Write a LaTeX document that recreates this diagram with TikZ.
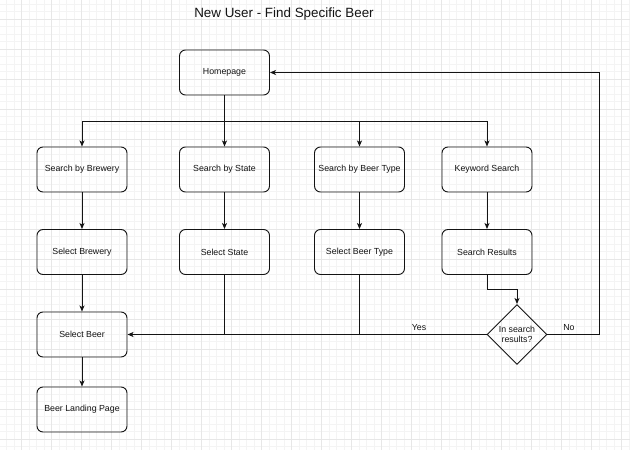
\documentclass[tikz,border=0pt]{standalone}
\usepackage{fontspec}
\setmainfont{Liberation Sans}
\usetikzlibrary{shapes.geometric,arrows.meta}
\definecolor{minorgrid}{HTML}{F4F4F4}
\definecolor{majorgrid}{HTML}{E7E7E7}
\definecolor{ink}{HTML}{141414}
\tikzset{
  stepbox/.style={draw=ink, line width=0.95pt, rounded corners=6pt, minimum width=90pt, minimum height=45pt, inner sep=1pt, align=center, font=\fontsize{8.8}{10.5}\selectfont, text=ink},
  decbox/.style={draw=ink, line width=0.95pt, diamond, minimum width=60pt, minimum height=60pt, inner sep=0pt, align=center, font=\fontsize{8.8}{10.5}\selectfont, text=ink},
  conn/.style={draw=ink, line width=0.95pt},
  arr/.style={conn, -{Stealth[length=6pt,width=5pt,inset=1.5pt]}},
  lbl/.style={font=\fontsize{8.8}{10.5}\selectfont, text=ink, inner sep=0pt},
}
\begin{document}
\begin{tikzpicture}[x=1pt,y=-1pt]
\useasboundingbox (0,0) rectangle (630,450);
\fill[white] (0,0) rectangle (630,450);
% grid
\foreach \i in {0,...,84} {\draw[minorgrid, line width=0.8pt] ({-0.8+7.5*\i},0) -- ({-0.8+7.5*\i},450);}
\foreach \i in {0,...,60} {\draw[minorgrid, line width=0.8pt] (0,{-3.2+7.5*\i}) -- (630,{-3.2+7.5*\i});}
\foreach \i in {0,...,20} {\draw[majorgrid, line width=0.9pt] ({21.7+30*\i},0) -- ({21.7+30*\i},450);}
\foreach \i in {0,...,14} {\draw[majorgrid, line width=0.9pt] (0,{19.3+30*\i}) -- (630,{19.3+30*\i});}

\node[font=\fontsize{13.4}{16}\selectfont, text=ink] (title) at (284,14.5) {New User - Find Specific Beer};

\node[stepbox] (home) at (224.5,72.5) {Homepage};
\node[stepbox] (sbrew) at (82,169.5) {Search by Brewery};
\node[stepbox] (sstate) at (224.5,169.5) {Search by State};
\node[stepbox] (stype) at (359.5,169.5) {Search by Beer Type};
\node[stepbox] (kw) at (487,169.5) {Keyword Search};
\node[stepbox] (selbrew) at (82,252) {Select Brewery};
\node[stepbox] (selstate) at (224.5,252) {Select State};
\node[stepbox] (seltype) at (359.5,252) {Select Beer Type};
\node[stepbox] (sres) at (487,252) {Search Results};
\node[stepbox] (selbeer) at (82,334.5) {Select Beer};
\node[stepbox] (land) at (82,409.5) {Beer Landing Page};
\node[decbox] (dec) at (517,334.5) {In search\\results?};

\coordinate (br) at (224.5,121);
\coordinate (kink) at (487,289);
\coordinate (noc) at (599,334.5);

\draw[conn] (home.south) -- (br);
\draw[arr] (br) -| (sbrew.north);
\draw[arr] (br) -- (sstate.north);
\draw[arr] (br) -| (stype.north);
\draw[arr] (br) -| (kw.north);

\draw[arr] (sbrew) -- (selbrew);
\draw[arr] (sstate) -- (selstate);
\draw[arr] (stype) -- (seltype);
\draw[arr] (kw) -- (sres);

\draw[arr] (selbrew) -- (selbeer);
\draw[arr] (selbeer) -- (land);
\draw[conn] (selstate.south) -- (selstate.south |- selbeer.east);
\draw[conn] (seltype.south) -- (seltype.south |- selbeer.east);
\draw[arr] (dec.west) -- (selbeer.east);
\draw[arr] (sres.south) -- (kink) -| (dec.north);
\draw[arr] (dec.east) -- (noc) |- (home.east);

\node[lbl] (yes) at (419,328) {Yes};
\node[lbl] (no) at (569,328) {No};
\end{tikzpicture}
\end{document}
